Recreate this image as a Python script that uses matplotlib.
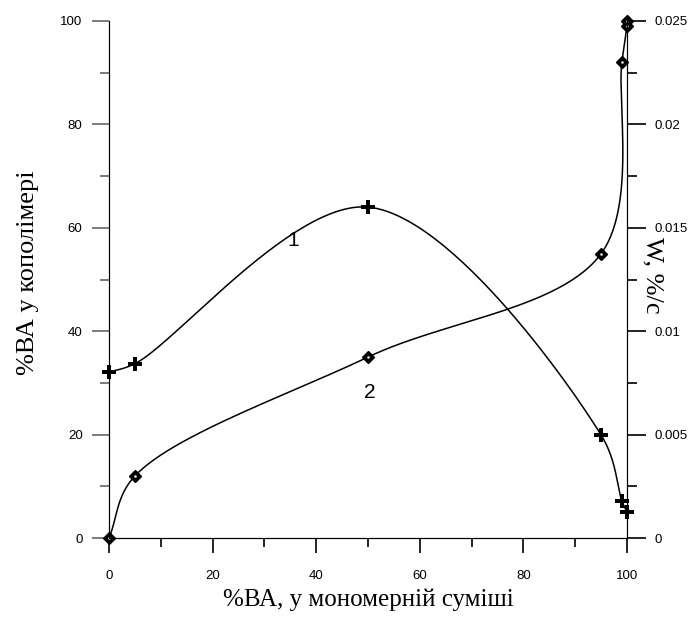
import numpy as np
import matplotlib
matplotlib.use("Agg")
import matplotlib.pyplot as plt
from matplotlib.ticker import MultipleLocator

# data
x_rate = [0, 5, 50, 95, 99, 100]
w_rate = [0.00802, 0.00843, 0.0160, 0.00498, 0.00180, 0.00125]   # curve 1, right axis

x_copo = [0, 5, 50, 95, 99, 100, 100]
y_copo = [0, 12, 35, 55, 92, 99, 100]                             # curve 2, left axis

w_ticks = [0, 0.005, 0.01, 0.015, 0.02, 0.025]
w_labels = ["0", "0.005", "0.01", "0.015", "0.02", "0.025"]


def smooth(xs, ys, xr, yr, n=60):
    # centripetal Catmull-Rom through the points, in axis-normalised space
    p = np.column_stack([(np.asarray(xs) - xr[0]) / (xr[1] - xr[0]),
                         (np.asarray(ys) - yr[0]) / (yr[1] - yr[0])])
    keep = [0] + [i for i in range(1, len(p)) if np.hypot(*(p[i] - p[i - 1])) > 1e-6]
    p = p[keep]
    p = np.vstack([2 * p[0] - p[1], p, 2 * p[-1] - p[-2]])
    out = []
    for i in range(1, len(p) - 2):
        P0, P1, P2, P3 = p[i - 1], p[i], p[i + 1], p[i + 2]
        t0 = 0.0
        t1 = t0 + np.hypot(*(P1 - P0)) ** 0.5
        t2 = t1 + np.hypot(*(P2 - P1)) ** 0.5
        t3 = t2 + np.hypot(*(P3 - P2)) ** 0.5
        t = np.linspace(t1, t2, n)[:, None]
        A1 = (t1 - t) / (t1 - t0) * P0 + (t - t0) / (t1 - t0) * P1
        A2 = (t2 - t) / (t2 - t1) * P1 + (t - t1) / (t2 - t1) * P2
        A3 = (t3 - t) / (t3 - t2) * P2 + (t - t2) / (t3 - t2) * P3
        B1 = (t2 - t) / (t2 - t0) * A1 + (t - t0) / (t2 - t0) * A2
        B2 = (t3 - t) / (t3 - t1) * A2 + (t - t1) / (t3 - t1) * A3
        C = (t2 - t) / (t2 - t1) * B1 + (t - t1) / (t2 - t1) * B2
        out.append(C)
    c = np.vstack(out)
    return c[:, 0] * (xr[1] - xr[0]) + xr[0], c[:, 1] * (yr[1] - yr[0]) + yr[0]


plt.rcParams["font.family"] = ["Liberation Sans", "DejaVu Sans"]
serif = ["Liberation Serif", "DejaVu Serif"]

fig = plt.figure(figsize=(6.93, 6.17), dpi=100)
ax = fig.add_axes([0.1573, 0.128, 0.7475, 0.838])
ax2 = ax.twinx()

XR, YR, WR = (0, 100), (0, 100), (0, 0.025)

# curve 2 on left axis
sx, sy = smooth(x_copo, y_copo, XR, YR)
ax.plot(sx, sy, color="black", lw=1.1, zorder=3)
ax.plot(x_copo, y_copo, ls="none", marker="D", ms=6.5, color="black", zorder=4, clip_on=False)
ax.plot(x_copo, y_copo, ls="none", marker="o", ms=1.8, mfc="white", mec="white", mew=0, zorder=5, clip_on=False)

# curve 1 on right axis
sx, sw = smooth(x_rate, w_rate, XR, WR)
ax2.plot(sx, sw, color="black", lw=1.1, zorder=3)
ax2.plot(x_rate, w_rate, ls="none", marker="P", ms=10, color="black", mew=0, zorder=4, clip_on=False)

ax.text(35.5, 57.5, "1", fontsize=15, ha="center", va="center")
ax.text(50.3, 28.2, "2", fontsize=15, ha="center", va="center")

ax.set_xlim(*XR)
ax.set_ylim(*YR)
ax2.set_ylim(*WR)

for a in (ax, ax2):
    a.spines["top"].set_visible(False)

ax.xaxis.set_major_locator(MultipleLocator(20))
ax.xaxis.set_minor_locator(MultipleLocator(10))
ax.yaxis.set_major_locator(MultipleLocator(20))
ax.yaxis.set_minor_locator(MultipleLocator(10))
ax2.set_yticks(w_ticks)
ax2.set_yticklabels(w_labels)
ax2.yaxis.set_minor_locator(MultipleLocator(0.0025))

ax.tick_params(axis="x", which="major", direction="out", length=11, width=1.2, labelsize=9.5, pad=12)
ax.tick_params(axis="x", which="minor", direction="out", length=6.5, width=1.2)
ax.tick_params(axis="y", which="major", direction="out", length=12, width=1.2, color="#666666", labelsize=9.5, pad=7)
ax.tick_params(axis="y", which="minor", direction="out", length=6.5, width=1.2, color="#666666")
ax2.tick_params(axis="y", which="major", direction="out", length=14, width=1.2, labelsize=9.5, pad=6)
ax2.tick_params(axis="y", which="minor", direction="out", length=7, width=1.2)

ax.set_xlabel("%ВА, у мономерній суміші", family=serif, fontsize=18, va="center", ha="center")
ax.xaxis.set_label_coords(0.5, -0.12)
ax.set_ylabel("%ВА у кополімері", family=serif, fontsize=19, va="center", ha="center")
ax.yaxis.set_label_coords(-0.156, 0.514)
ax2.set_ylabel("W, %/c", family=serif, fontsize=19, rotation=270, va="center", ha="center")
ax2.yaxis.set_label_coords(1.05, 0.509)

fig.savefig("out.png", dpi=100)
